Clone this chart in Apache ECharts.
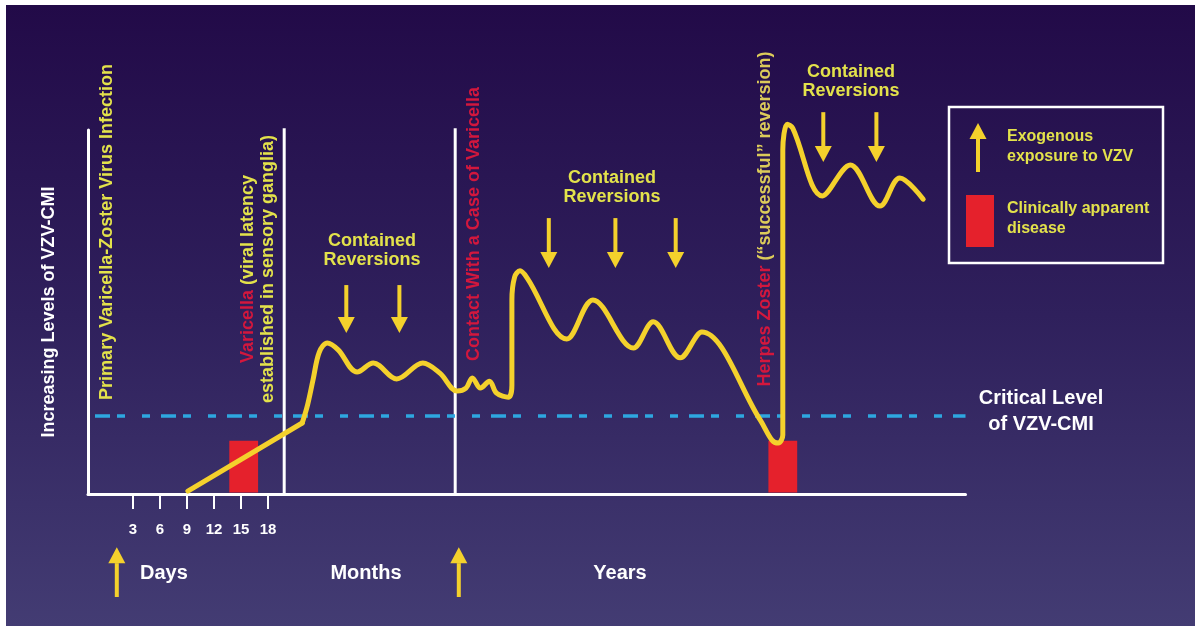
<!DOCTYPE html>
<html>
<head>
<meta charset="utf-8">
<script src="https://cdn.jsdelivr.net/npm/echarts@6/dist/echarts.min.js"></script>
<style>
html,body{margin:0;padding:0;background:#ffffff;}
#chart{width:1197px;height:626px;}
</style>
</head>
<body>
<div id="chart"></div>
<script>
// ---- data (notional time units on x, VZV-CMI level on y) ----
const tickDays = [3, 6, 9, 12, 15, 18];
const onsetX = [9.1, 21.8];
const onsetY = [0.8, 19.5];
const curveX = [21.8, 22.4, 23.0, 23.7, 24.6, 25.8, 27.9, 29.7, 32.3, 35.2, 37.1, 39.0, 40.0, 40.7, 41.6, 42.6, 43.4, 44.7, 45.1, 45.1, 45.4, 46.0, 46.8, 51.2, 54.1, 58.6, 60.8, 63.8, 66.2, 72.7, 74.0, 74.7, 75.2, 75.2, 75.7, 76.3, 79.6, 82.7, 86.0, 88.2, 90.8];
const curveY = [19.5, 24.5, 31.3, 39.0, 41.5, 39.6, 33.5, 36.0, 31.6, 36.0, 33.2, 28.3, 29.1, 31.9, 29.1, 31.0, 27.7, 26.6, 29.9, 53.3, 59.6, 61.3, 59.3, 42.6, 53.3, 40.1, 47.3, 37.4, 44.5, 20.3, 14.8, 14.0, 16.2, 94.5, 101.6, 100.5, 81.9, 90.4, 79.1, 86.8, 81.0];
const criticalLevel = 21.4;
const diseaseStart = [13.7, 73.6];
const diseaseEnd = [16.9, 76.8];
const diseaseTop = [14.6, 14.6];
const dividerX = [19.8, 38.8];
const dividerTop = 100.5;
const reversionX = [26.7, 32.6, 49.2, 56.6, 63.3, 79.7, 85.6];
const reversionTop = [57.4, 57.4, 75.8, 75.8, 75.8, 104.9, 104.9];
const reversionTip = [44.2, 44.2, 62.1, 62.1, 62.1, 91.2, 91.2];
const exposureX = [1.2, 39.2];
const exposureBase = [-28.3, -28.3];
const exposureTip = [-14.6, -14.6];

const X_MIN = -2, X_MAX = 95.5;
const YELLOW = '#f4d12c';
const TEXT_Y = '#e3e24b';
const RED = '#e5212c';
const RED_T = '#d3173d';
const FONT = '"Liberation Sans", Arial, Helvetica, sans-serif';

const chart = echarts.init(document.getElementById('chart'), null, {renderer: 'canvas'});

function arrowItem(params, api) {
  const x = api.value(0), ys = api.value(1), yt = api.value(2);
  const p0 = api.coord([x, ys]);
  const p1 = api.coord([x, yt]);
  const dir = p1[1] > p0[1] ? 1 : -1;
  const head = 16, hw = 8.5;
  return {
    type: 'group',
    children: [
      {type: 'line', shape: {x1: p0[0], y1: p0[1], x2: p1[0], y2: p1[1] - dir * head}, style: {stroke: YELLOW, lineWidth: 4}},
      {type: 'polygon', shape: {points: [[p1[0], p1[1]], [p1[0] - hw, p1[1] - dir * head], [p1[0] + hw, p1[1] - dir * head]]}, style: {fill: YELLOW}}
    ]
  };
}

const rotTextBase = {fontFamily: FONT, fontWeight: 'bold', fontSize: 18, align: 'center', verticalAlign: 'middle'};

function vtext(x, y, text, rich, lh) {
  return {
    type: 'text', x: x, y: y, rotation: Math.PI / 2, z: 50,
    style: Object.assign({}, rotTextBase, {text: text, rich: rich, lineHeight: lh || 20})
  };
}
function htext(x, y, text, color, size, align, lh) {
  return {
    type: 'text', x: x, y: y, z: 50,
    style: {text: text, fill: color, fontFamily: FONT, fontWeight: 'bold', fontSize: size, align: align || 'center', verticalAlign: 'middle', lineHeight: lh || size + 2}
  };
}

const option = {
  animation: false,
  backgroundColor: 'transparent',
  grid: {left: 88, right: 231.5, top: 130, bottom: 132},
  xAxis: {
    type: 'value', min: X_MIN, max: X_MAX,
    axisLine: {show: true, onZero: false, lineStyle: {color: '#ffffff', width: 3}},
    splitLine: {show: false},
    axisTick: {show: true, customValues: tickDays, length: 15, inside: false, lineStyle: {color: '#ffffff', width: 2}},
    axisLabel: {show: true, customValues: tickDays, margin: 28, color: '#ffffff', fontFamily: FONT, fontWeight: 'bold', fontSize: 15}
  },
  yAxis: {
    type: 'value', min: 0, max: 100,
    name: 'Increasing Levels of VZV-CMI', nameLocation: 'middle', nameRotate: 90, nameGap: 30,
    nameTextStyle: {color: '#ffffff', fontFamily: FONT, fontWeight: 'bold', fontSize: 18},
    axisLine: {show: true, onZero: false, lineStyle: {color: '#ffffff', width: 3}},
    axisTick: {show: false}, axisLabel: {show: false}, splitLine: {show: false}
  },
  graphic: [
    {
      type: 'rect', z: -100, silent: true,
      shape: {x: 6, y: 5, width: 1189, height: 621},
      style: {fill: new echarts.graphic.LinearGradient(0, 0, 0, 1, [
        {offset: 0, color: '#220a48'}, {offset: 0.5, color: '#2f205c'}, {offset: 1, color: '#433c73'}
      ])}
    },
    vtext(107, 232, '{y|Primary Varicella-Zoster Virus Infection}', {y: {fill: TEXT_Y}}),
    vtext(258, 269, '{r|Varicella}{y| (viral latency}\n{y|established in sensory ganglia)}', {r: {fill: RED_T}, y: {fill: TEXT_Y}}),
    vtext(474, 224, '{r|Contact With a Case of Varicella}', {r: {fill: RED_T}}),
    vtext(765, 219, '{r|Herpes Zoster}{y| (\u201csuccessful\u201d reversion)}', {r: {fill: RED_T}, y: {fill: '#dccb5a'}}),
    htext(372, 251, 'Contained\nReversions', TEXT_Y, 18, 'center', 19),
    htext(612, 188, 'Contained\nReversions', TEXT_Y, 18, 'center', 19),
    htext(851, 82, 'Contained\nReversions', TEXT_Y, 18, 'center', 19),
    htext(1041, 411, 'Critical Level\nof VZV-CMI', '#ffffff', 20, 'center', 26),
    htext(140, 573, 'Days', '#ffffff', 20, 'left'),
    htext(366, 573, 'Months', '#ffffff', 20, 'center'),
    htext(620, 573, 'Years', '#ffffff', 20, 'center'),
    // legend box
    {type: 'rect', z: 40, shape: {x: 949, y: 107, width: 214, height: 156}, style: {fill: 'none', stroke: '#ffffff', lineWidth: 2.5}},
    {type: 'line', z: 40, shape: {x1: 978, y1: 172, x2: 978, y2: 138}, style: {stroke: YELLOW, lineWidth: 4}},
    {type: 'polygon', z: 40, shape: {points: [[978, 123], [969.5, 139], [986.5, 139]]}, style: {fill: YELLOW}},
    {type: 'rect', z: 40, shape: {x: 966, y: 195, width: 28, height: 52}, style: {fill: RED}},
    htext(1007, 147, 'Exogenous\nexposure to VZV', TEXT_Y, 16, 'left', 20),
    htext(1007, 219, 'Clinically apparent\ndisease', TEXT_Y, 16, 'left', 20)
  ],
  series: [
    {
      name: 'Clinically apparent disease', type: 'custom', z: 3,
      data: diseaseStart.map((s, i) => [s, diseaseEnd[i], diseaseTop[i]]),
      encode: {x: [0, 1], y: 2},
      renderItem: function (params, api) {
        const a = api.coord([api.value(0), api.value(2)]);
        const b = api.coord([api.value(1), 0]);
        return {type: 'rect', shape: {x: a[0], y: a[1], width: b[0] - a[0], height: b[1] - a[1] - 1.5}, style: {fill: RED}};
      }
    },
    {
      name: 'Phase dividers', type: 'custom', z: 4,
      data: dividerX.map(x => [x, dividerTop]),
      encode: {x: 0, y: 1},
      renderItem: function (params, api) {
        const a = api.coord([api.value(0), 0]);
        const b = api.coord([api.value(0), api.value(1)]);
        return {type: 'line', shape: {x1: a[0], y1: a[1], x2: b[0], y2: b[1]}, style: {stroke: '#ffffff', lineWidth: 3}};
      }
    },
    {
      name: 'Critical Level of VZV-CMI', type: 'line', z: 5, symbol: 'none',
      data: [[X_MIN, criticalLevel], [X_MAX, criticalLevel]],
      lineStyle: {color: '#2ea7e0', width: 3.5, type: [8, 11, 15, 7, 8, 17], dashOffset: 12}
    },
    {
      name: 'VZV-CMI onset', type: 'line', z: 8, symbol: 'none', smooth: false,
      data: onsetX.map((x, i) => [x, onsetY[i]]),
      lineStyle: {color: YELLOW, width: 5, cap: 'round', join: 'round'}
    },
    {
      name: 'VZV-CMI', type: 'line', z: 8, symbol: 'none', smooth: 0.35, clip: false,
      data: curveX.map((x, i) => [x, curveY[i]]),
      lineStyle: {color: YELLOW, width: 5, cap: 'round', join: 'round'}
    },
    {
      name: 'Contained reversions', type: 'custom', z: 9, clip: false,
      data: reversionX.map((x, i) => [x, reversionTop[i], reversionTip[i]]),
      encode: {x: 0, y: [1, 2]},
      renderItem: arrowItem
    },
    {
      name: 'Exogenous exposure to VZV', type: 'custom', z: 9, clip: false,
      data: exposureX.map((x, i) => [x, exposureBase[i], exposureTip[i]]),
      encode: {x: 0, y: [1, 2]},
      renderItem: arrowItem
    }
  ]
};
chart.setOption(option);
</script>
</body>
</html>
